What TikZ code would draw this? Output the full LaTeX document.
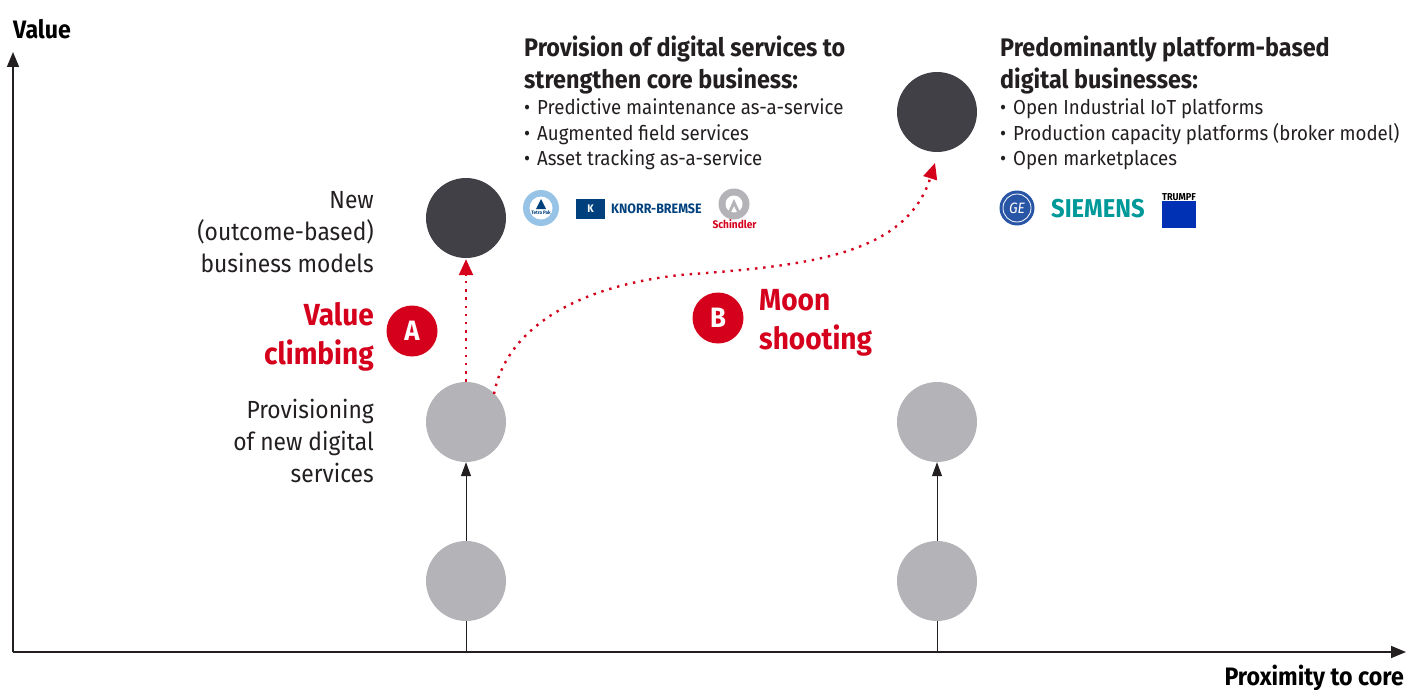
\documentclass[tikz,border=0pt]{standalone}
\usepackage{fontspec}
\setmainfont[FakeStretch=0.92]{Fira Sans}
\usetikzlibrary{arrows.meta,positioning,calc}
\definecolor{porschered}{RGB}{213,0,28}
\definecolor{circlegrey}{RGB}{180,180,184}
\definecolor{circledark}{RGB}{64,64,70}
\definecolor{axisdark}{RGB}{35,31,32}
\definecolor{knorrblue}{RGB}{0,65,125}
\definecolor{gecolor}{RGB}{40,85,165}
\definecolor{siemensteal}{RGB}{0,153,153}
\definecolor{trumpfblue}{RGB}{0,48,180}
\definecolor{tetrablue}{RGB}{150,195,230}
\newcommand{\infobullet}{•\hspace{2pt} }
\tikzset{
  stage/.style={circle, draw=none, fill=circlegrey, minimum size=80pt, inner sep=0pt},
  darkstage/.style={stage, fill=circledark},
  badge/.style={circle, draw=none, fill=porschered, text=white, minimum size=51pt, inner sep=0pt, font=\fontsize{28}{28}\selectfont\bfseries},
  axisline/.style={-{Triangle[length=15pt,width=12pt]}, line width=1.6pt, draw=axisdark},
  stem/.style={-{Triangle[length=14pt,width=10pt]}, line width=1pt, draw=axisdark},
  dotted path/.style={-{Triangle[length=16pt,width=14pt]}, line width=2.4pt, draw=porschered, dash pattern=on 2.4pt off 5.8pt},
  axislabel/.style={font=\fontsize{25.2}{28}\selectfont\bfseries, inner sep=0pt},
  sidelabel/.style={align=right, anchor=east, inner sep=0pt, text=axisdark, font=\fontsize{24.8}{32}\selectfont},
  redlabel/.style={inner sep=0pt, text=porschered, font=\fontsize{30.5}{38.5}\selectfont\bfseries},
  infotext/.style={align=left, anchor=north west, inner sep=0pt, text=axisdark, font=\fontsize{20.3}{25.5}\selectfont},
  infohead/.style={align=left, anchor=north west, inner sep=0pt, text=axisdark, font=\fontsize{25.4}{32}\selectfont\bfseries}
}
\begin{document}
\begin{tikzpicture}[x=1pt,y=-1pt]
\useasboundingbox (0,0) rectangle (1419,690);

% Axes
\coordinate (origin) at (13,652);
\coordinate (valueend) at (13,52);
\coordinate (proxend) at (1406,652);
\draw[axisline] (origin) -- (valueend);
\draw[axisline] (origin) -- (proxend);
\node[axislabel, anchor=west] (valuelabel) at (13,29) {Value};
\node[axislabel, anchor=east] (proxlabel) at (1404,678) {Proximity to core};

% Circles
\node[stage] (lowleft) at (466,581) {};
\node[stage] (midleft) at (466,422) {};
\node[darkstage] (topleft) at (466,218) {};
\node[stage] (lowright) at (937,581) {};
\node[stage] (midright) at (937,422) {};
\node[darkstage] (topright) at (937,112) {};

% Arrows
\draw[line width=1pt, draw=axisdark] (lowleft |- origin) -- (lowleft.south);
\draw[line width=1pt, draw=axisdark] (lowright |- origin) -- (lowright.south);
\draw[stem] (lowleft.north) -- (midleft.south);
\draw[stem] (lowright.north) -- (midright.south);
\draw[dotted path] (midleft.north) -- ($(topleft.south)+(0,1)$);
\coordinate (moonstart) at (494,394);
\coordinate (moonend) at (935,163);
\draw[dotted path] (moonstart) .. controls (505,335) and (565,288) .. (680,275)
  .. controls (800,266) and (905,258) .. (moonend);

% Side labels
\node[sidelabel] (newlabel) at (374,232) {New\\(outcome-based)\\business models};
\node[sidelabel] (provlabel) at (374,441) {Provisioning\\of new digital\\services};

% Red labels
\node[badge] (badgea) at (412,331) {A};
\node[badge] (badgeb) at (718,318) {B};
\node[redlabel, align=right, anchor=east] (climblabel) at (374,337) {Value\\climbing};
\node[redlabel, align=left, anchor=west] (moonlabel) at (759,323) {Moon\\shooting};

% Info texts
\node[infohead] (headleft) at (524,36) {Provision of digital services to\\strengthen core business:};
\node[infotext, below=4pt of headleft.south west, anchor=north west] (infoleft) {\infobullet Predictive maintenance as-a-service\\\infobullet Augmented field services\\\infobullet Asset tracking as-a-service};
\node[infohead] (headright) at (1000,36) {Predominantly platform-based\\digital businesses:};
\node[infotext, below=4pt of headright.south west, anchor=north west] (inforight) {\infobullet Open Industrial IoT platforms\\\infobullet Production capacity platforms (broker model)\\\infobullet Open marketplaces};

% Logos
\node[circle, fill=tetrablue, minimum size=36pt, inner sep=0pt] (tetralogo) at (541,208) {};
\node[circle, fill=white, minimum size=23pt, inner sep=0pt] (tetracore) at (tetralogo) {};
\fill[knorrblue] (541,199) -- (546,209) -- (536,209) -- cycle;
\node[inner sep=0pt, text=knorrblue, font=\fontsize{5}{5}\selectfont\bfseries] (tetraname) at (541,213) {Tetra Pak};
\node[fill=knorrblue, minimum width=29pt, minimum height=20pt, inner sep=0pt, text=white, font=\fontsize{11}{11}\selectfont\bfseries] (knorrmark) at (590.5,209) {K};
\node[anchor=west, inner sep=0pt, text=knorrblue, font=\fontsize{13.6}{14}\selectfont\bfseries] (knorrname) at (611,209) {KNORR-BREMSE};
\node[circle, fill=circlegrey, minimum size=31pt, inner sep=0pt] (schindlermark) at (734,204) {};
\node[circle, fill=white, minimum size=17pt, inner sep=0pt] (schindlercore) at (schindlermark) {};
\fill[circlegrey] (734,199) -- (740,212) -- (737,212) -- (734,206) -- (731,212) -- (728,212) -- cycle;
\node[inner sep=0pt, text=porschered, font=\fontsize{11}{11}\selectfont\bfseries] (schindlername) at (734.5,224) {Schindler};
\node[circle, fill=gecolor, minimum size=35pt, inner sep=0pt, text=white, font=\fontsize{15}{15}\selectfont\itshape] (gelogo) at (1017,208) {GE};
\node[circle, draw=white, line width=0.8pt, minimum size=28pt, inner sep=0pt] (gering) at (gelogo) {};
\node[anchor=west, inner sep=0pt, text=siemensteal, font=\fontsize{25.8}{26}\selectfont\bfseries] (siemenslogo) at (1051,209) {SIEMENS};
\node[fill=trumpfblue, minimum width=34pt, minimum height=27pt, inner sep=0pt] (trumpfmark) at (1179,214.5) {};
\node[above=0pt of trumpfmark, inner sep=0pt, text=black, font=\fontsize{10}{10}\selectfont\bfseries] (trumpfname) {TRUMPF};

\end{tikzpicture}
\end{document}
